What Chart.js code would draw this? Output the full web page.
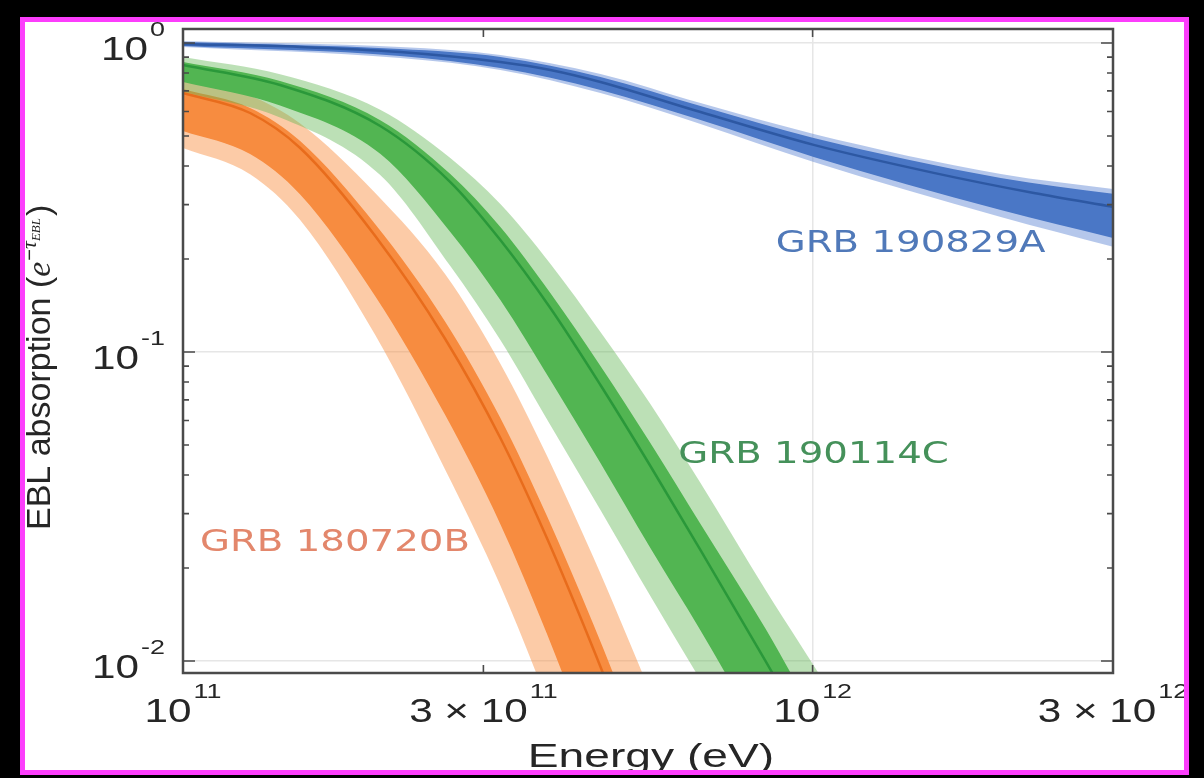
<!DOCTYPE html>
<html>
<head>
<meta charset="utf-8">
<script src="https://cdn.jsdelivr.net/npm/chart.js@4.4.1/dist/chart.umd.min.js"></script>
<style>
  html, body { margin: 0; padding: 0; background: #000; }
  body { width: 1204px; height: 778px; position: relative; overflow: hidden; }
  .frame {
    position: absolute; left: 20px; top: 17px;
    width: 1159px; height: 748px;
    border: 5px solid #fc3efc; background: #fff; overflow: hidden;
  }
  canvas { display: block; }
</style>
</head>
<body>
<div class="frame"><canvas id="eblChart" width="1159" height="748"></canvas></div>
<script>
    // Axis ticks (energy in eV, absorption e^-tau)
    const xTicks = [1e11, 3e11, 1e12, 3e12];
    const xTickLabels = [['10', '11'], ['3 \u00d7 10', '11'], ['10', '12'], ['3 \u00d7 10', '12']];
    const yTicks = [0.01, 0.1, 1];
    const yTickLabels = [['10', '-2'], ['10', '-1'], ['10', '0']];

    const grbNames = ['GRB 180720B', 'GRB 190114C', 'GRB 190829A'];

    // GRB 180720B: median and the inner / outer uncertainty bands
    const orangeE = [1.0e11, 1.278e11, 1.535e11, 2.02e11, 2.609e11, 3.192e11, 3.79e11, 4.485e11, 4.953e11, 5.525e11];
    const orangeMid = [0.689, 0.5936, 0.4573, 0.2374, 0.1102, 0.05269, 0.02482, 0.01094, 0.00654, 0.003657];
    const orangeDarkHi = [0.71, 0.6166, 0.4818, 0.2591, 0.1254, 0.06113, 0.02929, 0.01315, 0.007952, 0.004506];
    const orangeDarkLo = [0.5191, 0.437, 0.3234, 0.1516, 0.0625, 0.02772, 0.01216, 0.004956, 0.002822, 0.001494];
    const orangeLightHi = [0.7591, 0.6749, 0.5492, 0.3272, 0.1785, 0.09169, 0.04594, 0.02165, 0.0135, 0.00792];
    const orangeLightLo = [0.4572, 0.3763, 0.2675, 0.1135, 0.0416, 0.01756, 0.007383, 0.002874, 0.00159, 0.000814];

    // GRB 190114C
    const greenE = [1.0e11, 1.426e11, 2.057e11, 2.658e11, 3.192e11, 3.832e11, 4.603e11, 5.525e11, 6.637e11, 8.42e11, 9.57e11, 1.068e12];
    const greenMid = [0.8488, 0.7313, 0.5388, 0.3549, 0.2304, 0.1388, 0.0782, 0.04277, 0.02287, 0.0100, 0.006346, 0.00444];
    const greenDarkHi = [0.8677, 0.7528, 0.5626, 0.3768, 0.2538, 0.1552, 0.09013, 0.05077, 0.02776, 0.01271, 0.008057, 0.005635];
    const greenDarkLo = [0.7483, 0.6277, 0.4378, 0.2446, 0.1473, 0.0812, 0.04372, 0.02321, 0.01255, 0.005401, 0.00341, 0.002307];
    const greenLightHi = [0.9013, 0.7922, 0.6083, 0.4245, 0.3012, 0.1931, 0.1161, 0.06789, 0.03767, 0.01698, 0.01127, 0.007938];
    const greenLightLo = [0.695, 0.5743, 0.374, 0.1898, 0.1094, 0.05807, 0.03081, 0.01623, 0.008678, 0.003934, 0.002516, 0.001721];

    // GRB 190829A
    const blueE = [1.0e11, 1.535e11, 2.213e11, 3.192e11, 3.832e11, 4.603e11, 6.637e11, 1.004e12, 1.557e12, 2.246e12, 3.0e12];
    const blueMid = [0.993, 0.971, 0.935, 0.868, 0.818, 0.748, 0.598, 0.468, 0.38, 0.327, 0.295];
    const blueBandE = [1.0e11, 2.213e11, 3.192e11, 4.603e11, 6.637e11, 1.004e12, 1.99e12, 3.0e12];
    const blueDarkHi = [1.0075, 0.956, 0.901, 0.776, 0.625, 0.493, 0.366, 0.325];
    const blueDarkLo = [0.978, 0.908, 0.83, 0.705, 0.563, 0.428, 0.288, 0.234];
    const blueLightHi = [1.015, 0.971, 0.915, 0.794, 0.639, 0.508, 0.377, 0.337];
    const blueLightLo = [0.971, 0.894, 0.818, 0.689, 0.547, 0.412, 0.2735, 0.219];

    // Where each GRB name sits (left edge, vertical middle) in data units
    const nameAnchors = [
      { x: 1.064e11, y: 0.0246, color: '#e3876c' },
      { x: 6.12e11, y: 0.0475, color: '#45915a' },
      { x: 8.736e11, y: 0.2287, color: '#5079b9' }
    ];

    const pts = (xs, ys) => xs.map((x, i) => ({ x, y: ys[i] }));

    const common = {
      pointRadius: 0,
      pointHoverRadius: 0,
      cubicInterpolationMode: 'monotone',
      clip: 0
    };
    const hidden = { borderWidth: 0, borderColor: 'rgba(0,0,0,0)' };

    // outer band, inner band, median line for one burst
    function burst(s, colors, topOrder) {
      return [
        { ...common, ...hidden, data: pts(s.bandE, s.lightHi), backgroundColor: colors.light, fill: '+1', order: topOrder },
        { ...common, ...hidden, data: pts(s.bandE, s.lightLo), fill: false, order: topOrder - 1 },
        { ...common, ...hidden, data: pts(s.bandE, s.darkHi), backgroundColor: colors.dark, fill: '+1', order: topOrder - 2 },
        { ...common, ...hidden, data: pts(s.bandE, s.darkLo), fill: false, order: topOrder - 3 },
        { ...common, data: pts(s.lineE, s.mid), borderColor: colors.line, borderWidth: 2.5, fill: false, order: topOrder - 4 }
      ];
    }

    const datasets = [
      ...burst({ lineE: orangeE, bandE: orangeE, mid: orangeMid, darkHi: orangeDarkHi, darkLo: orangeDarkLo, lightHi: orangeLightHi, lightLo: orangeLightLo },
        { light: 'rgba(248,140,60,0.45)', dark: '#f78c40', line: '#e86c1c' }, 15),
      ...burst({ lineE: greenE, bandE: greenE, mid: greenMid, darkHi: greenDarkHi, darkLo: greenDarkLo, lightHi: greenLightHi, lightLo: greenLightLo },
        { light: 'rgba(95,180,80,0.42)', dark: '#52b552', line: '#2a983a' }, 10),
      ...burst({ lineE: blueE, bandE: blueBandE, mid: blueMid, darkHi: blueDarkHi, darkLo: blueDarkLo, lightHi: blueLightHi, lightLo: blueLightLo },
        { light: 'rgba(90,130,210,0.45)', dark: '#4a77c6', line: '#2d58a3' }, 5)
    ];

    const SX = 1.28;
    const SANS = '"Liberation Sans", Arial, sans-serif';

    function stretchedText(ctx, s, x, y, font, sx) {
      ctx.save();
      ctx.font = font;
      ctx.translate(x, y);
      ctx.scale(sx, 1);
      ctx.textAlign = 'left';
      ctx.textBaseline = 'alphabetic';
      ctx.fillText(s, 0, 0);
      ctx.restore();
    }

    function widthOf(ctx, s, font, sx) {
      ctx.font = font;
      return ctx.measureText(s).width * sx;
    }

    // "10" with a raised exponent
    function power(ctx, base, exp, x, baseY, expY, align) {
      const bf = '33px ' + SANS;
      const ef = '21px ' + SANS;
      const wb = widthOf(ctx, base, bf, SX);
      const we = widthOf(ctx, exp, ef, SX);
      const total = wb + 2 + we;
      const x0 = align === 'center' ? x - total / 2 : x - total;
      stretchedText(ctx, base, x0, baseY, bf, SX);
      stretchedText(ctx, exp, x0 + wb + 2, expY, ef, SX);
    }

    const decorations = {
      id: 'decorations',
      afterDatasetsDraw(chart) {
        const { ctx, chartArea: a, scales } = chart;
        const xs = scales.x, ys = scales.y;

        // box and inward ticks
        ctx.save();
        ctx.strokeStyle = '#4a4a4a';
        ctx.lineWidth = 2.5;
        ctx.strokeRect(a.left, a.top, a.right - a.left, a.bottom - a.top);

        ctx.lineWidth = 1.6;
        ctx.beginPath();
        yTicks.forEach(v => {
          const py = ys.getPixelForValue(v);
          ctx.moveTo(a.left, py); ctx.lineTo(a.left + 12, py);
          ctx.moveTo(a.right, py); ctx.lineTo(a.right - 12, py);
        });
        for (let d = -3; d <= 0; d++) {
          for (let k = 2; k <= 9; k++) {
            const v = k * Math.pow(10, d);
            if (v < ys.min || v > ys.max) continue;
            const py = ys.getPixelForValue(v);
            ctx.moveTo(a.left, py); ctx.lineTo(a.left + 6, py);
            ctx.moveTo(a.right, py); ctx.lineTo(a.right - 6, py);
          }
        }
        xTicks.slice(1, -1).forEach(v => {
          const px = xs.getPixelForValue(v);
          ctx.moveTo(px, a.top); ctx.lineTo(px, a.top + 8);
          ctx.moveTo(px, a.bottom); ctx.lineTo(px, a.bottom - 8);
        });
        ctx.stroke();

        // tick labels
        ctx.fillStyle = '#262626';
        yTicks.forEach((v, i) => {
          const py = ys.getPixelForValue(v);
          power(ctx, yTickLabels[i][0], yTickLabels[i][1], a.left - 18, py + 17, py - 7, 'right');
        });
        xTicks.forEach((v, i) => {
          const px = xs.getPixelForValue(v);
          power(ctx, xTickLabels[i][0], xTickLabels[i][1], px, a.bottom + 49, a.bottom + 25, 'center');
        });

        // x title
        const xf = '33px ' + SANS;
        const xt = 'Energy (eV)';
        const xw = widthOf(ctx, xt, xf, 1.4);
        stretchedText(ctx, xt, (a.left + a.right) / 2 - xw / 2 + 3, 745, xf, 1.4);

        // y title, rotated
        ctx.save();
        ctx.translate(25, 508);
        ctx.rotate(-Math.PI / 2);
        ctx.textBaseline = 'alphabetic';
        let cx = 0;
        const seg = (s, font, dy) => {
          ctx.font = font;
          ctx.fillText(s, cx, dy);
          cx += ctx.measureText(s).width;
        };
        seg('EBL absorption (', '34px ' + SANS, 0);
        seg('e', 'italic 34px "Liberation Serif", serif', 0);
        cx += 1;
        seg('\u2212', '20px ' + SANS, -14);
        seg('\u03c4', 'italic 22px "Liberation Serif", serif', -14);
        seg('EBL', 'italic 13px "Liberation Serif", serif', -10);
        cx += 2;
        seg(')', '34px ' + SANS, 0);
        ctx.restore();

        // burst names
        const nf = '30px "DejaVu Sans", sans-serif';
        nameAnchors.forEach((n, i) => {
          ctx.fillStyle = n.color;
          const px = xs.getPixelForValue(n.x);
          const py = ys.getPixelForValue(n.y);
          stretchedText(ctx, grbNames[i], px, py + 11, nf, 1.29);
        });
        ctx.restore();
      }
    };

    new Chart(document.getElementById('eblChart').getContext('2d'), {
      type: 'line',
      data: { datasets },
      options: {
        responsive: false,
        animation: false,
        devicePixelRatio: 1,
        layout: { padding: { left: 158, right: 71, top: 7, bottom: 97 } },
        plugins: {
          legend: { display: false },
          tooltip: { enabled: false }
        },
        scales: {
          x: {
            type: 'logarithmic',
            min: 1e11,
            max: 3e12,
            afterBuildTicks: scale => { scale.ticks = xTicks.map(v => ({ value: v })); },
            ticks: { display: false },
            grid: {
              drawTicks: false,
              lineWidth: 1.5,
              color: c => (c.tick && c.tick.value === 1e12 ? '#e6e6e6' : 'rgba(0,0,0,0)')
            },
            border: { display: false }
          },
          y: {
            type: 'logarithmic',
            min: 0.009147,
            max: 1.11,
            afterBuildTicks: scale => { scale.ticks = yTicks.map(v => ({ value: v })); },
            ticks: { display: false },
            grid: { drawTicks: false, lineWidth: 1.5, color: '#e6e6e6' },
            border: { display: false }
          }
        }
      },
      plugins: [decorations]
    });
</script>
</body>
</html>
